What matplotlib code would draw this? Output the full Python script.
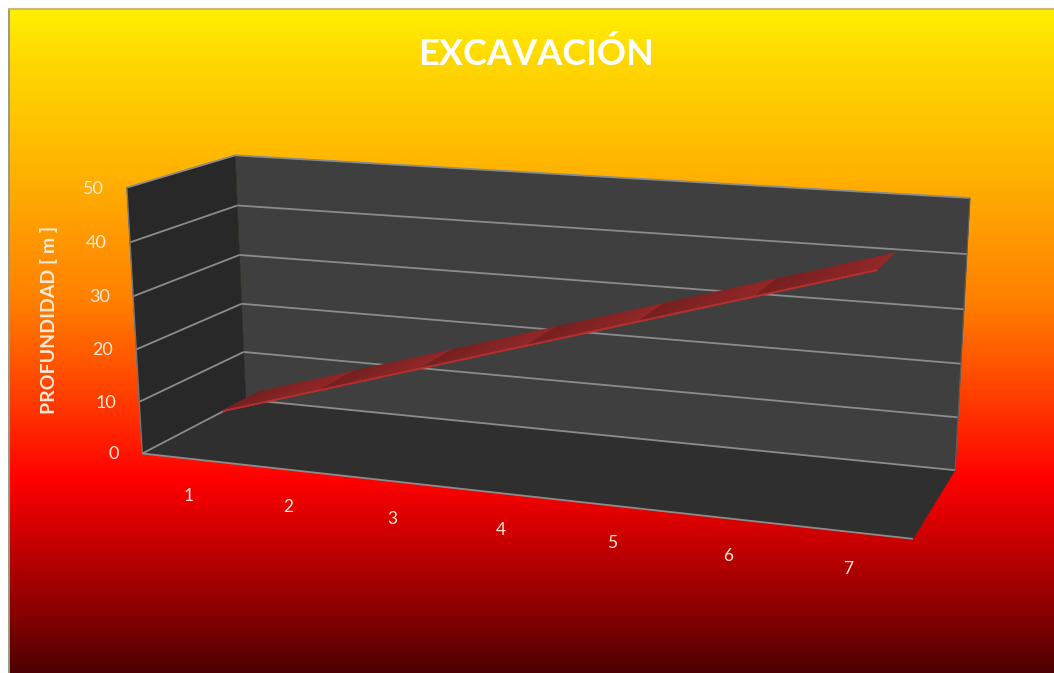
import numpy as np
import matplotlib
matplotlib.use('Agg')
import matplotlib.pyplot as plt
from matplotlib.colors import LinearSegmentedColormap
from matplotlib.patches import Polygon

categorias = [1, 2, 3, 4, 5, 6, 7]
profundidad = [6, 12, 18, 24, 30, 36, 42]
ticks_z = [0, 10, 20, 30, 40, 50]

W, H = 1054, 673
plt.rcParams['font.family'] = ['Lato', 'DejaVu Sans']

# esquinas de la caja 3D en pixeles, para sacar la camara
cubo = [(0, 0, 0), (1, 0, 0), (1, 1, 0), (0, 1, 0), (0, 0, 1), (0, 1, 1), (1, 1, 1)]
pix = [(142, 453), (913, 539), (955, 470), (246, 400), (127, 188), (235, 155), (970, 198)]


def camara(cubo, pix):
    filas = []
    for (x, y, z), (u, v) in zip(cubo, pix):
        filas.append([x, y, z, 1, 0, 0, 0, 0, -u * x, -u * y, -u * z, -u])
        filas.append([0, 0, 0, 0, x, y, z, 1, -v * x, -v * y, -v * z, -v])
    return np.linalg.svd(np.array(filas))[2][-1].reshape(3, 4)


P = camara(cubo, pix)


def proy(cat, prof, val):
    # cat en posicion de categoria, prof de 0 a 1, val en metros
    q = np.array([(cat - 0.5) / 7, prof, val / 50, 1.0])
    r = P @ q
    return r[0] / r[2], r[1] / r[2]


fig = plt.figure(figsize=(W / 100, H / 100), dpi=100)
ax = fig.add_axes([0, 0, 1, 1])

# fondo degradado
paradas = [(9, (255, 240, 0)), (60, (255, 215, 0)), (140, (255, 190, 0)), (300, (255, 128, 0)),
           (400, (255, 60, 0)), (480, (255, 0, 0)), (560, (185, 0, 0)), (620, (130, 0, 0)), (673, (78, 0, 0))]
cm = LinearSegmentedColormap.from_list('fondo', [((y - 9) / (H - 9), np.array(c) / 255) for y, c in paradas])
ax.imshow(np.linspace(0, 1, 664)[:, None], cmap=cm, extent=(9, W, H, 9), aspect='auto', zorder=0)
ax.set_xlim(0, W)
ax.set_ylim(H, 0)
ax.axis('off')
ax.plot([8.5, 8.5], [H, 9], color='#9a9a88', lw=1.4, zorder=1)
ax.plot([8.5, W], [9, 9], color='#c8bb70', lw=1.5, zorder=1)


def cara(puntos, color, z):
    ax.add_patch(Polygon([proy(*p) for p in puntos], closed=True, fc=color, ec=color, lw=0.4, zorder=z))


c0, c1 = 0.5, 7.5
cara([(c0, 0, 0), (c1, 0, 0), (c1, 1, 0), (c0, 1, 0)], '#2f2f2f', 2)
cara([(c0, 1, 0), (c1, 1, 0), (c1, 1, 50), (c0, 1, 50)], '#3f3f3f', 2)
cara([(c0, 0, 0), (c0, 1, 0), (c0, 1, 50), (c0, 0, 50)], '#282828', 2)


def linea(a, b, color='#8c8c8c', lw=1.3, z=3):
    pa, pb = proy(*a), proy(*b)
    ax.plot([pa[0], pb[0]], [pa[1], pb[1]], color=color, lw=lw, zorder=z, solid_capstyle='butt')


for t in ticks_z:
    linea((c0, 0, t), (c0, 1, t))
    linea((c0, 1, t), (c1, 1, t))
linea((c0, 0, 0), (c1, 0, 0))
linea((c0, 0, 0), (c0, 0, 50), color='#777777', lw=1)
linea((c1, 1, 0), (c1, 1, 50), color='#5f5f5f', lw=0.8)

# cinta de la serie
frente, fondo = 0.31, 0.67
sombra = LinearSegmentedColormap.from_list('cinta', ['#762020', '#932828'])
for i in range(len(categorias) - 1):
    c_a, c_b = categorias[i], categorias[i + 1]
    v_a, v_b = profundidad[i], profundidad[i + 1]
    esq = np.array([[proy(c_a, fondo, v_a), proy(c_b, fondo, v_b)],
                    [proy(c_a, frente, v_a), proy(c_b, frente, v_b)]])
    ax.pcolormesh(esq[:, :, 0], esq[:, :, 1], np.array([[0.0, 1.0], [0.0, 1.0]]), shading='gouraud',
                  cmap=sombra, vmin=0, vmax=1, zorder=5)
    cara([(c_a, frente, v_a), (c_b, frente, v_b), (c_b, frente, v_b - 0.25), (c_a, frente, v_a - 0.25)], '#b83030', 6)

# textos
claro = '#ffe9d8'
for t in ticks_z:
    x, y = proy(c0, 0, t)
    ax.text(x - 23, y + 1, str(t), color=claro, fontsize=13, ha='right', va='center', zorder=7)
for c in categorias:
    x, y = proy(c, 0, 0)
    ax.text(x - 3, y + 37, str(c), color=claro, fontsize=12.5, ha='center', va='center', zorder=7)
ax.text(49, 320, 'PROFUNDIDAD [ m ]', color=claro, fontsize=14, fontweight='bold', rotation=90,
        ha='center', va='center', zorder=7)
ax.text(536, 54, 'EXCAVACIÓN', color='white', fontsize=26, fontweight='bold', ha='center', va='center', zorder=7)

fig.savefig('out.png', dpi=100)
